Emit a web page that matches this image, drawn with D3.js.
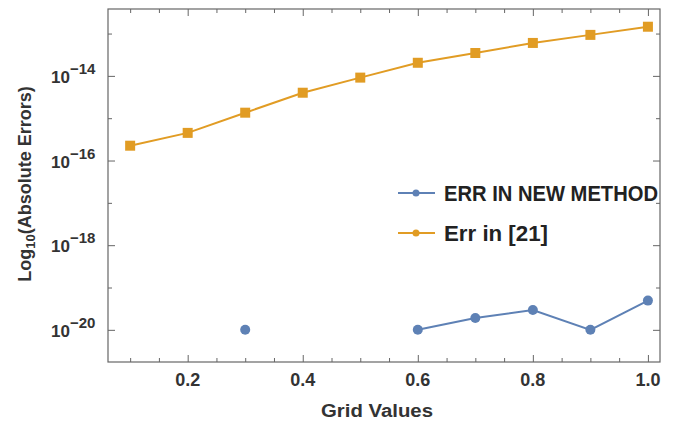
<!DOCTYPE html>
<html>
<meta charset="utf-8">
<style>
  body { margin: 0; background: #fff; }
  svg { width: 675px; height: 423px; display: block; }
  .frame { fill: none; stroke: #666; stroke-width: 1.2; }
  .tick line { stroke: #666; stroke-width: 1; }
  .xlab { font-family: "Liberation Sans", Arial, sans-serif; font-weight: bold; font-size: 18px; fill: #333; }
  .ylab { font-family: "Liberation Sans", Arial, sans-serif; font-weight: bold; font-size: 17px; fill: #333; }
  .title { font-family: "Liberation Sans", Arial, sans-serif; font-weight: bold; font-size: 18px; fill: #333; }
  .legend { font-family: "Liberation Sans", Arial, sans-serif; font-weight: bold; font-size: 22px; fill: #222; }
</style>
<body>
  <svg></svg>
</body>

<script src="https://cdn.jsdelivr.net/npm/d3@7"></script>

<script>

var grid = [0.1, 0.2, 0.3, 0.4, 0.5, 0.6, 0.7, 0.8, 0.9, 1.0];
var errNew = [null, null, 1e-20, null, null, 1e-20, 1.9e-20, 2.95e-20, 1e-20, 4.9e-20];
var errRef = [2.24e-16, 4.5e-16, 1.35e-15, 4.0e-15, 9.1e-15, 2.04e-14, 3.47e-14, 6.0e-14, 9.3e-14, 1.45e-13];
var xTickLabels = ["0.2", "0.4", "0.6", "0.8", "1.0"];
var yTickExps = [-14, -16, -18, -20];
var seriesNames = ["ERR IN NEW METHOD", "Err in [21]"];

var blue = "#5e81b5", orange = "#e19c24";

var pLeft = 108, pRight = 660, pTop = 9, pBottom = 362;

var svg = d3.select("svg");

var xScale = d3.scaleLinear()
  .domain([0.0615, 1.021])
  .range([pLeft, pRight]);

var yScale = d3.scaleLog()
  .domain([Math.pow(10, -20.76), Math.pow(10, -12.42)])
  .range([pBottom, pTop]);

// frame
svg.append("rect").attr("class", "frame")
  .attr("x", pLeft).attr("y", pTop)
  .attr("width", pRight - pLeft).attr("height", pBottom - pTop);

// x ticks (major + minor), on bottom and top, pointing inward
var xMinor = d3.range(2, 21).map(function(i){ return i * 0.05; });
var gx = svg.append("g").attr("transform", "translate(0," + pBottom + ")")
  .call(d3.axisBottom(xScale).tickValues(xMinor).tickFormat(""));
var gxt = svg.append("g").attr("transform", "translate(0," + pTop + ")")
  .call(d3.axisTop(xScale).tickValues(xMinor).tickFormat(""));
[gx, gxt].forEach(function(g){
  g.select(".domain").remove();
  g.selectAll(".tick line").attr("y2", function(d){
    var major = Math.round(d * 20) % 4 === 0;
    var s = major ? 7 : 4;
    return g === gx ? -s : s;
  });
});

svg.selectAll(".xtl").data(xTickLabels).enter().append("text")
  .attr("class", "xlab")
  .attr("x", function(d){ return xScale(+d); })
  .attr("y", 386)
  .attr("text-anchor", "middle")
  .text(function(d){ return d; });

// y ticks at every decade, labels on even ones
var yDecades = d3.range(-20, -12).map(function(e){ return Math.pow(10, e); });
var gy = svg.append("g").attr("transform", "translate(" + pLeft + ",0)")
  .call(d3.axisLeft(yScale).tickValues(yDecades).tickFormat(""));
var gyr = svg.append("g").attr("transform", "translate(" + pRight + ",0)")
  .call(d3.axisRight(yScale).tickValues(yDecades).tickFormat(""));
[gy, gyr].forEach(function(g){
  g.select(".domain").remove();
  g.selectAll(".tick line").attr("x2", function(d){
    var e = Math.round(Math.log10(d));
    var s = (e % 2 === 0) ? 7 : 4;
    return g === gy ? s : -s;
  });
});

var ytl = svg.selectAll(".ytl").data(yTickExps).enter().append("text")
  .attr("class", "ylab")
  .attr("x", 51)
  .attr("y", function(d){ return yScale(Math.pow(10, d)) + 7; });
ytl.append("tspan").text("10");
ytl.append("tspan").attr("dy", -9).style("font-size", "15px")
  .text(function(d){ return "\u2212" + Math.abs(d); });

// axis titles
var yt = svg.append("text").attr("class", "title")
  .attr("transform", "translate(31,184) rotate(-90)")
  .attr("text-anchor", "middle");
yt.append("tspan").text("Log");
yt.append("tspan").attr("dy", 4).style("font-size", "13px").text("10");
yt.append("tspan").attr("dy", -4).text("(Absolute Errors)");

svg.append("text").attr("class", "title")
  .attr("x", 377).attr("y", 417)
  .attr("text-anchor", "middle")
  .attr("textLength", 112)
  .attr("lengthAdjust", "spacingAndGlyphs")
  .text("Grid Values");

// series
var line = d3.line()
  .defined(function(d){ return d[1] != null; })
  .x(function(d){ return xScale(d[0]); })
  .y(function(d){ return yScale(d[1]); });

var refData = grid.map(function(g, i){ return [g, errRef[i]]; });
var newData = grid.map(function(g, i){ return [g, errNew[i]]; });

svg.append("path").datum(refData)
  .attr("fill", "none").attr("stroke", orange).attr("stroke-width", 2)
  .attr("d", line);
svg.selectAll(".sq").data(refData).enter().append("rect")
  .attr("x", function(d){ return xScale(d[0]) - 5; })
  .attr("y", function(d){ return yScale(d[1]) - 5; })
  .attr("width", 10).attr("height", 10)
  .attr("fill", orange);

svg.append("path").datum(newData)
  .attr("fill", "none").attr("stroke", blue).attr("stroke-width", 2)
  .attr("d", line);
svg.selectAll(".dot").data(newData.filter(function(d){ return d[1] != null; }))
  .enter().append("circle")
  .attr("cx", function(d){ return xScale(d[0]); })
  .attr("cy", function(d){ return yScale(d[1]); })
  .attr("r", 5)
  .attr("fill", blue);

// legend
var legendLen = [214, 104];
var lg = svg.append("g");
[[blue, 193], [orange, 233]].forEach(function(c, i){
  lg.append("line").attr("x1", 398).attr("x2", 435)
    .attr("y1", c[1]).attr("y2", c[1])
    .attr("stroke", c[0]).attr("stroke-width", 2);
  lg.append("circle").attr("cx", 416).attr("cy", c[1]).attr("r", 3.5).attr("fill", c[0]);
  lg.append("text").attr("class", "legend")
    .attr("x", 444).attr("y", c[1] + 8)
    .attr("textLength", legendLen[i])
    .attr("lengthAdjust", "spacingAndGlyphs")
    .text(seriesNames[i]);
});

</script>
</html>
